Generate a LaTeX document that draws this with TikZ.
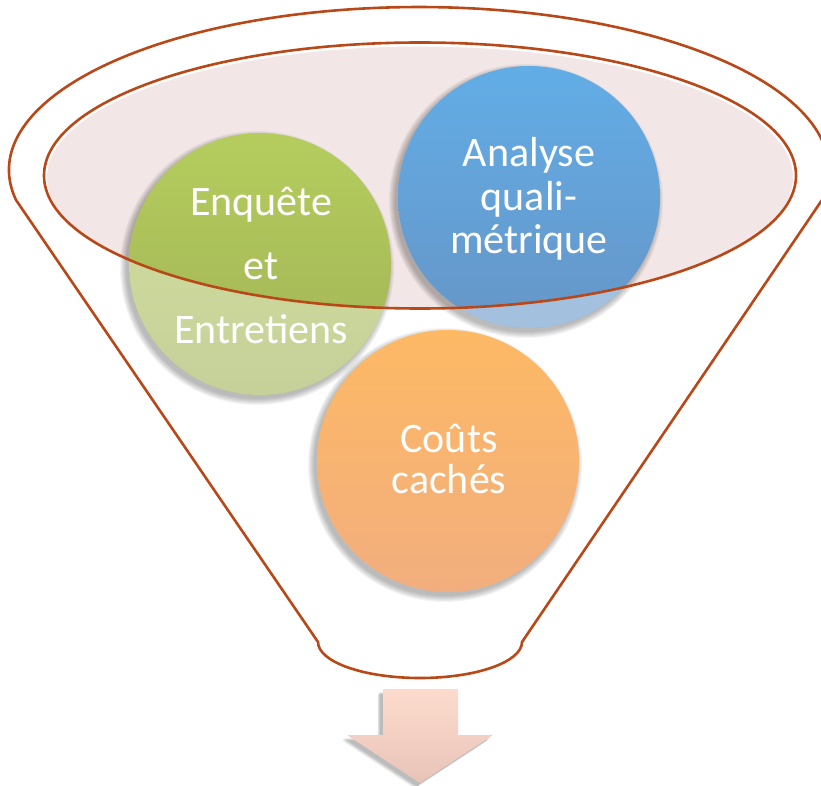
\documentclass[tikz,border=0pt]{standalone}
\usepackage{fontspec}
\setmainfont{Carlito}
\usetikzlibrary{calc}
\definecolor{rim}{RGB}{185,72,24}
\definecolor{rimfill}{RGB}{242,230,230}
\definecolor{gtop}{RGB}{181,205,93}
\definecolor{gbot}{RGB}{160,178,86}
\definecolor{btop}{RGB}{98,173,230}
\definecolor{bbot}{RGB}{102,150,200}
\definecolor{otop}{RGB}{253,185,100}
\definecolor{obot}{RGB}{242,174,126}
\definecolor{atop}{RGB}{252,219,205}
\definecolor{abot}{RGB}{232,196,184}
\tikzset{
  rimline/.style={draw=rim, line width=2.6pt},
  ball/.style={circle, minimum size=262pt, inner sep=0pt, draw=none},
  label/.style={text=white, inner sep=0pt, anchor=base, align=center},
  softshadow/.style={fill=black, opacity=0.045, draw=none}
}
\begin{document}
\begin{tikzpicture}[x=1pt,y=-1pt]
\useasboundingbox (0,0) rectangle (821,786);
% funnel outline
\draw[rimline, line join=round] (16,200) arc[start angle=169.4, end angle=370.6, x radius=410, y radius=163]
  -- (522,642) arc[start angle=0, end angle=180, x radius=102, y radius=36] -- cycle;
% rim fill
\fill[rimfill] (420,177.5) ellipse [x radius=373, y radius=131];
% circle positions
\coordinate (gc) at (260,264);
\coordinate (bc) at (529,197);
\coordinate (oc) at (448,461);
% soft shadows
\foreach \c in {gc,bc,oc}{
  \foreach \k in {0,...,6}{
    \fill[softshadow] ($(\c)+(-3,4)$) circle (137-\k);
  }
}
% circles
\node[ball, top color=gtop, bottom color=gbot] (g) at (gc) {};
\node[ball, top color=btop, bottom color=bbot] (b) at (bc) {};
\node[ball, top color=otop, bottom color=obot] (o) at (oc) {};
% lighter part below the rim
\begin{scope}
  \clip (gc) circle (131) (bc) circle (131);
  \fill[white, opacity=0.4, even odd rule] (0,0) rectangle (821,786) (420,175.5) ellipse [x radius=376, y radius=133];
\end{scope}
% rim border
\draw[rimline] (420,175.5) ellipse [x radius=376, y radius=133];
% texts (base anchor = baseline of the last line)
\begin{scope}[every node/.style={label}]
\node[font=\fontsize{42}{64}\selectfont] (gt) at (261,343) {Enquête\\et\\Entretiens};
\node[font=\fontsize{42}{43}\selectfont] (bt) at (529,253) {Analyse\\quali-\\métrique};
\node[font=\fontsize{42}{41}\selectfont] (ot) at (449,493) {Coûts\\cachés};
\end{scope}
% arrow shadow
\foreach \k in {0,...,4}{
  \fill[black, opacity=0.06, shift={(-3-0.6*\k,3+0.6*\k)}] (383,689) -- (458,689) -- (458,735) -- (493,735) -- (420,783) -- (347,735) -- (383,735) -- cycle;
}
\shade[top color=atop, bottom color=abot] (383,689) -- (458,689) -- (458,735) -- (493,735) -- (420,783) -- (347,735) -- (383,735) -- cycle;
\end{tikzpicture}
\end{document}
